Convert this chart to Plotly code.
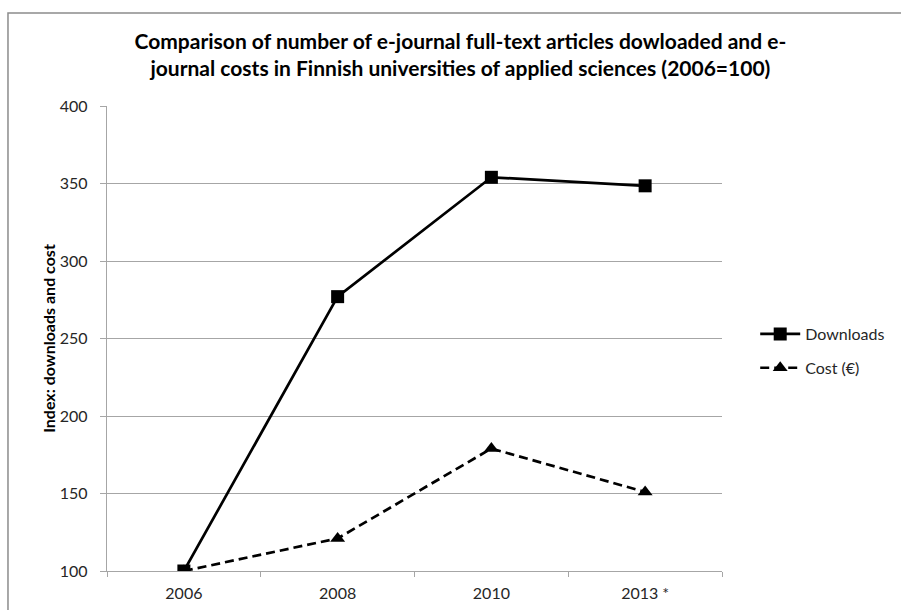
import plotly.graph_objects as go

# Index values (2006 = 100)
years = ["2006", "2008", "2010", "2013 *"]
downloads = [100, 277, 354, 348.5]
cost = [100, 121, 179, 151]

y_ticks = [100, 150, 200, 250, 300, 350, 400]

FONT = "Lato, 'Open Sans', sans-serif"
TXT = "#262626"
AXIS = "#a6a6a6"

fig = go.Figure()
fig.add_trace(go.Scatter(
    x=years, y=downloads, name="Downloads", mode="lines+markers",
    legendgroup="d",
    line=dict(color="black", width=2.7),
    marker=dict(symbol="square", size=13, color="black"),
))
fig.add_trace(go.Scatter(
    x=years, y=cost, name="Cost (€)", mode="lines+markers",
    legendgroup="c",
    line=dict(color="black", width=2.7, dash="9px,5px"),
    marker=dict(symbol="triangle-up", size=13, color="black"),
))

# chart frame (gray outline around the chart area)
fig.add_shape(
    type="rect", xref="paper", yref="paper",
    x0=-0.161, x1=1.6, y0=-0.3, y1=1.2,
    line=dict(color="#8c8c8c", width=1.5), fillcolor="rgba(0,0,0,0)",
    layer="below",
)

fig.update_layout(
    width=901, height=610,
    paper_bgcolor="white", plot_bgcolor="white",
    margin=dict(l=107, r=179, t=106, b=39, autoexpand=False),
    font=dict(family=FONT, size=16, color=TXT),
    title=dict(
        text="Comparison of number of e-journal full-text articles dowloaded and e-<br>"
             "journal costs in Finnish universities of applied sciences (2006=100)",
        x=0.511, xanchor="center", y=0.92, yanchor="middle",
        font=dict(family=FONT, size=21, color="black", weight="bold"),
    ),
    legend=dict(
        x=1.054, xanchor="left", y=0.473, yanchor="middle",
        font=dict(family=FONT, size=16, color=TXT),
        itemwidth=40, traceorder="grouped", tracegroupgap=10,
        bgcolor="rgba(0,0,0,0)",
    ),
    showlegend=True,
)

fig.update_xaxes(
    type="category", tickson="boundaries", range=[-0.5, 3.5],
    automargin=False,
    showline=True, linecolor=AXIS, linewidth=1.3,
    ticks="outside", ticklen=5, tickcolor=AXIS,
    showgrid=False, zeroline=False,
    ticklabelstandoff=8,
    tickfont=dict(size=16, color=TXT),
)
fig.update_yaxes(
    range=[100, 400], tickvals=y_ticks,
    automargin=False,
    showline=True, linecolor=AXIS, linewidth=1.3,
    ticks="outside", ticklen=6, tickcolor=AXIS,
    showgrid=True, gridcolor=AXIS, gridwidth=1.2,
    zeroline=False,
    ticklabelstandoff=9,
    tickfont=dict(size=16, color=TXT),
    title=dict(text="<b>Index: downloads and cost</b>", standoff=0,
               font=dict(family=FONT, size=16, color="black")),
)

fig.write_html("out.html")
